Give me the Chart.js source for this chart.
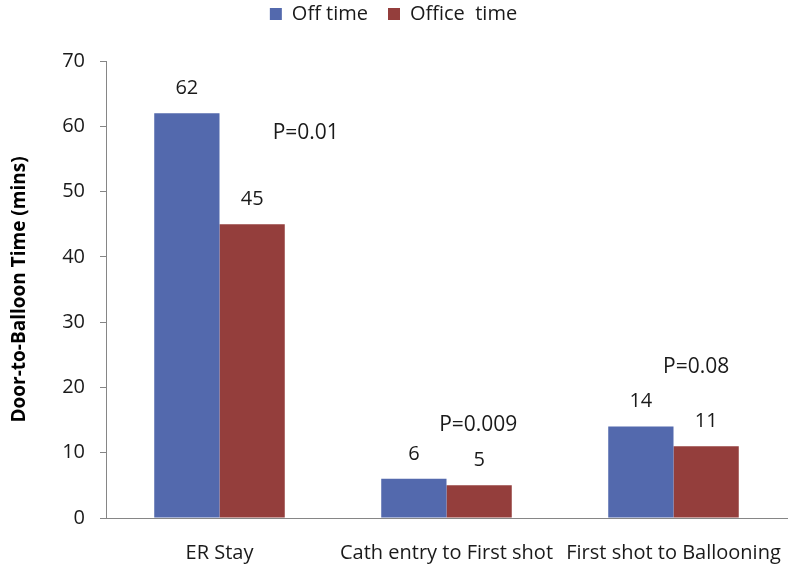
<!DOCTYPE html>
<html>
<head>
<meta charset="utf-8">
<script src="https://cdn.jsdelivr.net/npm/chart.js@4"></script>
<style>
  html, body { margin: 0; padding: 0; background: #fff; }
  #wrap { width: 791px; height: 570px; }
</style>
</head>
<body>
<div id="wrap"><canvas id="chart" width="791" height="570"></canvas></div>
<script>
// データ
const categories = ['ER Stay', 'Cath entry to First shot', 'First shot to Ballooning'];
const offTime = [62, 6, 14];
const officeTime = [45, 5, 11];
const pTexts = ['P=0.01', 'P=0.009', 'P=0.08'];
const pLevels = [59, 14.2, 23.1];      // y位置（データ単位）
const yTicks = [0, 10, 20, 30, 40, 50, 60, 70];

const FONT = "'Open Sans', 'Noto Sans', sans-serif";
const pShift = [0.38, 0.14, 0.10];    // カテゴリ幅に対するx方向のずれ

// 値ラベルとP値
const annotatePlugin = {
    id: 'annotatePlugin',
    afterDatasetsDraw(chart) {
        const ctx = chart.ctx;
        const xs = chart.scales.x;
        const ys = chart.scales.y;
        ctx.save();
        ctx.fillStyle = '#1a1a1a';
        ctx.font = '20px ' + FONT;
        ctx.textAlign = 'center';
        ctx.textBaseline = 'middle';
        chart.data.datasets.forEach((ds, di) => {
            chart.getDatasetMeta(di).data.forEach((bar, i) => {
                ctx.fillText(String(ds.data[i]), bar.x, bar.y - 25);
            });
        });
        const catW = xs.width / categories.length;
        ctx.font = '21px ' + FONT;
        pTexts.forEach((t, i) => {
            const x = xs.getPixelForValue(i) + pShift[i] * catW;
            const y = ys.getPixelForValue(pLevels[i]);
            ctx.fillText(t, x, y);
        });
        ctx.restore();
    }
};

new Chart(document.getElementById('chart'), {
    type: 'bar',
    data: {
        labels: categories,
        datasets: [
            { label: 'Off time', data: offTime, backgroundColor: '#5369ad' },
            { label: 'Office  time', data: officeTime, backgroundColor: '#943e3c' }
        ]
    },
    options: {
        responsive: false,
        animation: false,
        layout: { padding: { left: 0, right: 4, top: -16, bottom: 0 } },
        datasets: { bar: { categoryPercentage: 0.575, barPercentage: 1.0 } },
        plugins: {
            legend: {
                position: 'top',
                labels: {
                    boxWidth: 12,
                    boxHeight: 12,
                    padding: 20,
                    color: '#1a1a1a',
                    font: { family: FONT, size: 20 }
                }
            },
            // 凡例の下の余白
            title: {
                display: true,
                text: ' ',
                weight: 500,
                font: { size: 10 },
                padding: { top: 0, bottom: 15 }
            },
            tooltip: { enabled: false }
        },
        scales: {
            x: {
                // 目盛線は描かないが、tickLengthでラベルを下げる
                grid: { display: false, drawTicks: true, tickLength: 21 },
                border: { display: true, color: '#868686', width: 1 },
                ticks: {
                    color: '#1a1a1a',
                    font: { family: FONT, size: 20 },
                    padding: 2,
                    autoSkip: false,
                    maxRotation: 0
                },
                afterFit(scale) { scale.height = 52; }
            },
            y: {
                min: 0,
                max: 70,
                afterBuildTicks(scale) { scale.ticks = yTicks.map(v => ({ value: v })); },
                grid: { drawOnChartArea: false, drawTicks: true, tickLength: 6, color: '#868686' },
                border: { display: true, color: '#868686', width: 1 },
                ticks: {
                    color: '#1a1a1a',
                    font: { family: FONT, size: 20 },
                    padding: 15
                },
                title: {
                    display: true,
                    text: 'Door-to-Balloon Time (mins)',
                    color: '#000',
                    font: { family: FONT, size: 19, weight: 'bold' },
                    padding: { top: 8, bottom: 0 }
                },
                afterFit(scale) { scale.width = 106; }
            }
        }
    },
    plugins: [annotatePlugin]
});
</script>
</body>
</html>
